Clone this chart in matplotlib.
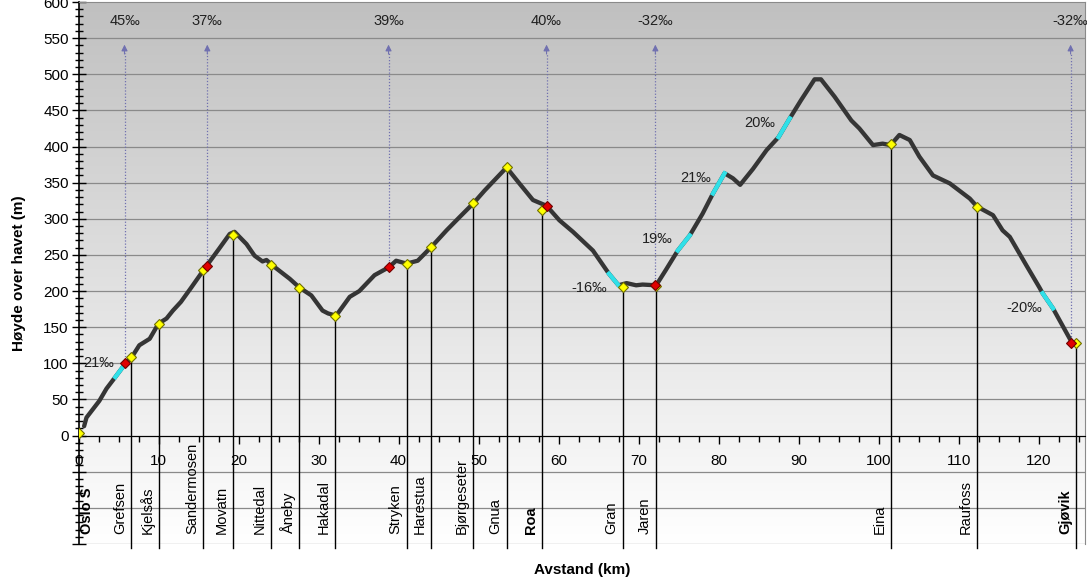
import numpy as np
import matplotlib
matplotlib.use("Agg")
import matplotlib.pyplot as plt
from matplotlib.colors import LinearSegmentedColormap
from matplotlib.ticker import MultipleLocator, FuncFormatter

plt.rcParams['font.family'] = ['Liberation Sans', 'DejaVu Sans']

# høydeprofil (km, moh)
profile_km = [0.7, 1.0, 2.6, 3.5, 4.6, 5.75, 6.8, 7.6, 8.9, 10.0, 11.0, 11.8, 12.8,
              14.1, 15.75, 17.6, 18.9, 19.5, 21.0, 22.0, 23.0, 23.5, 24.3, 26.4,
              27.6, 29.1, 30.5, 31.2, 32.2, 33.9, 35.1, 37.0, 38.8, 39.7, 41.0,
              42.4, 44.1, 46.0, 47.6, 49.4, 50.75, 53.5, 55.1, 56.8, 58.5, 60.1,
              61.8, 64.3, 66.3, 67.5, 68.5, 69.7, 70.5, 72.2, 73.4, 74.9, 76.4,
              78.0, 79.3, 80.75, 81.8, 82.7, 84.3, 86.0, 87.5, 88.9, 90.3, 92.0,
              92.8, 94.5, 96.6, 97.6, 99.3, 100.5, 101.5, 102.6, 103.9, 105.1,
              106.8, 108.9, 111.4, 112.3, 114.3, 115.5, 116.4, 118.5, 120.1,
              120.5, 121.8, 124.2]
profile_h = [13, 25, 48, 65, 81, 98, 111, 125, 134, 155, 162, 173, 185,
             205, 231, 259, 279, 282, 265, 249, 241, 243, 235, 217,
             205, 194, 173, 169, 166, 192, 200, 222, 233, 242, 238,
             242, 261, 284, 302, 322, 339, 371, 349, 326, 318, 298,
             282, 256, 224, 208, 211, 208, 209, 208, 229, 256, 277,
             307, 335, 363, 356, 347, 369, 395, 413, 439, 464, 493,
             493, 469, 436, 425, 402, 404, 402, 416, 409, 386,
             360, 349, 328, 317, 305, 284, 275, 235, 205,
             197, 176, 128]

stations = ["Oslo S", "Grefsen", "Kjelsås", "Sandermosen", "Movatn", "Nittedal",
            "Åneby", "Hakadal", "Stryken", "Harestua", "Bjørgeseter", "Gnua",
            "Roa", "Gran", "Jaren", "Eina", "Raufoss", "Gjøvik"]
station_km = [0, 6.6, 10.0, 15.6, 19.25, 24.1, 27.6, 32.1, 41.0, 44.1, 49.3,
              53.5, 57.9, 68.0, 72.2, 101.5, 112.3, 124.7]
station_h = [4, 109, 155, 229, 278, 236, 204, 165, 238, 261, 322, 371, 312,
             205, 207, 403, 317, 128]
main_stations = ["Oslo S", "Roa", "Gjøvik"]

# største stigning pr. strekning (røde punkter og piler)
steep_km = [5.75, 16.1, 38.75, 58.5, 72.1, 124.0]
steep_h = [100, 234, 233, 318, 208, 128]
steep_labels = ["45‰", "37‰", "39‰", "40‰", "-32‰", "-32‰"]

# markerte stigningspartier (cyan)
grade_start = [4.6, 66.3, 74.9, 79.3, 87.5, 120.5]
grade_end = [5.75, 67.5, 76.4, 80.75, 88.9, 121.8]
grade_labels = ["21‰", "-16‰", "19‰", "21‰", "20‰", "-20‰"]
grade_label_km = [4.4, 66.0, 74.2, 79.0, 87.1, 120.5]
grade_label_h = [101, 204, 272, 357, 432, 176]

xmax = 125.8
fig = plt.figure(figsize=(10.87, 5.87), dpi=100)
ax = fig.add_axes([78.5 / 1087, 1 - 544 / 587, 1006.5 / 1087, 542 / 587])
ax.set_xlim(0, xmax)
ax.set_ylim(-150, 600)

# bakgrunn med gradient
cmap = LinearSegmentedColormap.from_list("bg", ["#ffffff", "#c0c0c0"])
grad = np.linspace(0, 1, 256).reshape(-1, 1)
ax.imshow(grad, extent=[0, xmax, -150, 600], origin="lower", aspect="auto",
          cmap=cmap, zorder=0)

for yy in range(-150, 600, 50):
    ax.axhline(yy, color="#8a8a8a", lw=0.9, zorder=1)

for s in ["top", "right"]:
    ax.spines[s].set_color("#8a8a8a")
ax.spines["bottom"].set_position(("data", 0))
ax.spines["left"].set_linewidth(1.2)

# stasjonslinjer og navn
for name, km, h in zip(stations, station_km, station_h):
    if km > 0:
        ax.plot([km, km], [h, -155], color="black", lw=1, zorder=2, clip_on=False)
    lx = km + 1.1 if km == 0 else km - 1.4
    ax.text(lx, -136, name, rotation=90, ha="center", va="bottom", fontsize=10.5,
            fontweight="bold" if name in main_stations else "normal", zorder=6)

km_arr = np.array(profile_km)
h_arr = np.array(profile_h)
ax.plot(km_arr, h_arr, color="#353535", lw=3.1, solid_capstyle="round",
        solid_joinstyle="round", zorder=3)

for a, b in zip(grade_start, grade_end):
    m = (km_arr > a) & (km_arr < b)
    xs = np.concatenate([[a], km_arr[m], [b]])
    ys = np.interp(xs, km_arr, h_arr)
    ax.plot(xs, ys, color="#30e0e8", lw=3.1, zorder=4)

for t, x, y in zip(grade_labels, grade_label_km, grade_label_h):
    ax.text(x, y, t, ha="right", va="center", fontsize=10.5, color="#202020", zorder=6)

# piler til stigningstall øverst
for x, y, t in zip(steep_km, steep_h, steep_labels):
    ax.plot([x, x], [y, 530], color="#7070b0", lw=0.9, ls=(0, (1, 1.5)), zorder=2)
    ax.annotate("", xy=(x, 541), xytext=(x, 528),
                arrowprops=dict(arrowstyle="-|>", color="#7070b0", lw=0.8,
                                mutation_scale=9, shrinkA=0, shrinkB=0), zorder=2)
    ax.text(x, 574, t, ha="center", va="center", fontsize=10.5, color="#202020")

ax.plot(station_km, station_h, ls="none", marker="D", ms=5.3, mfc="#ffff00",
        mec="#707000", mew=0.8, zorder=5)
ax.plot(steep_km, steep_h, ls="none", marker="D", ms=5.3, mfc="#e00000",
        mec="#700000", mew=0.8, zorder=5)

ax.xaxis.set_major_locator(MultipleLocator(10))
ax.xaxis.set_minor_locator(MultipleLocator(2.5))
ax.set_xticks(range(0, 121, 10))
ax.yaxis.set_major_locator(MultipleLocator(50))
ax.yaxis.set_minor_locator(MultipleLocator(10))
ax.yaxis.set_major_formatter(FuncFormatter(lambda v, p: "" if v < 0 else f"{v:.0f}"))
ax.tick_params(axis="x", which="major", direction="out", length=6, width=1,
               pad=7, labelsize=11)
ax.tick_params(axis="x", which="minor", direction="out", length=4, width=1)
ax.tick_params(axis="y", which="major", direction="inout", length=10, width=1,
               pad=2, labelsize=11)
ax.tick_params(axis="y", which="minor", direction="inout", length=6, width=1)

ax.set_ylabel("Høyde over havet (m)", fontsize=11, fontweight="bold")
ax.yaxis.set_label_coords(-0.052, 0.5)
fig.text(582 / 1087, 1 - 570 / 587, "Avstand (km)", ha="center", va="center",
         fontsize=11, fontweight="bold")

fig.savefig("out.png", dpi=100)
